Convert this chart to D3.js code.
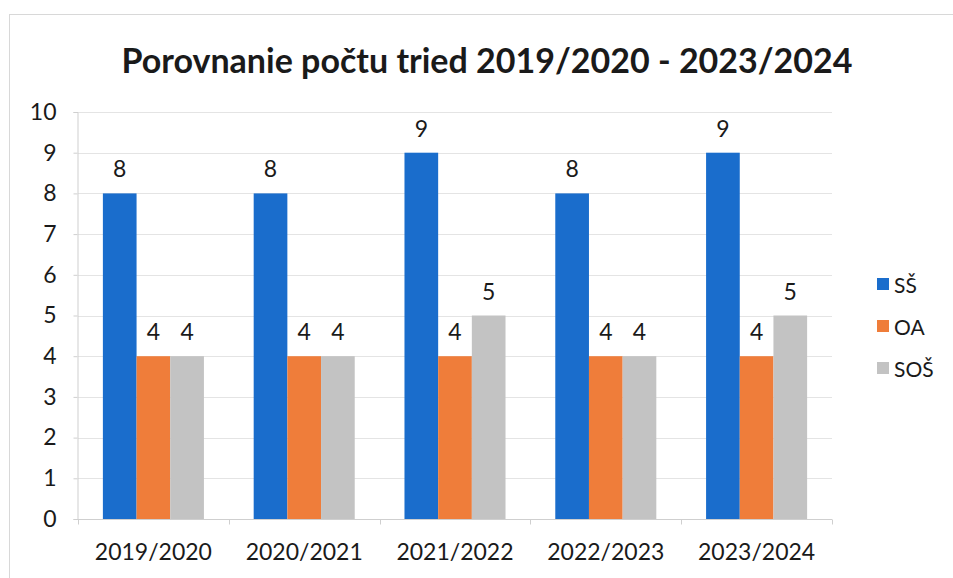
<!DOCTYPE html>
<html>
<head>
<meta charset="utf-8">
<script src="https://cdn.jsdelivr.net/npm/d3@7"></script>
<style>
  body { margin: 0; background: #fff; }
  text { font-family: Lato, "Open Sans", sans-serif; fill: #1a1a1a; }
</style>
</head>
<body>
<svg class="chart"></svg>
<script>
// data
var years = ["2019/2020", "2020/2021", "2021/2022", "2022/2023", "2023/2024"];
var seriesNames = ["SŠ", "OA", "SOŠ"];
var ssValues = [8, 8, 9, 8, 9];
var oaValues = [4, 4, 4, 4, 4];
var sosValues = [4, 4, 5, 4, 5];
var yTicks = [0, 1, 2, 3, 4, 5, 6, 7, 8, 9, 10];
var colors = ["#1a6dcc", "#ef7d3a", "#c3c3c3"];

var W = 953, H = 578;
var chart = d3.select('.chart').attr('width', W).attr('height', H);

// outer frame
chart.append('rect')
    .attr('x', 9.5).attr('y', 14.5)
    .attr('width', W - 8).attr('height', H)
    .attr('fill', 'none').attr('stroke', '#d8d8d8');

var y = d3.scaleLinear().domain([0, 10]).range([519, 112]);
var x = d3.scaleBand().domain(years).range([78, 832])
    .paddingInner(0.33).paddingOuter(0.165);
var xs = d3.scaleBand().domain(seriesNames).range([0, x.bandwidth()]);

var rows = years.map(function (yr, i) {
    return { year: yr, vals: [ssValues[i], oaValues[i], sosValues[i]] };
});

// gridlines
chart.append('g').selectAll('line').data(yTicks.slice(1)).enter().append('line')
    .attr('x1', 78).attr('x2', 832)
    .attr('y1', function (d) { return Math.round(y(d)) + 0.5; })
    .attr('y2', function (d) { return Math.round(y(d)) + 0.5; })
    .attr('stroke', '#e4e4e4');

// y axis
var yAxis = chart.append('g').attr('transform', 'translate(77.5,0)')
    .call(d3.axisLeft(y).tickValues(yTicks).tickSize(4).tickPadding(17));
yAxis.select('.domain').attr('stroke', '#cfcfcf');
yAxis.selectAll('.tick line').attr('stroke', '#cfcfcf');
yAxis.selectAll('.tick text').attr('font-size', 23).attr('fill', '#1a1a1a')
    .attr('font-family', 'Lato, sans-serif');

// x axis
var bounds = years.map(function (d) { return x(d) - x.step() * x.paddingInner() / 2; });
bounds.push(832);
var xAxis = chart.append('g').attr('transform', 'translate(0,519.5)');
xAxis.append('line').attr('x1', 78).attr('x2', 832).attr('stroke', '#cfcfcf');
xAxis.selectAll('line.tk').data(bounds).enter().append('line').attr('class', 'tk')
    .attr('x1', function (d) { return Math.round(d) + 0.5; })
    .attr('x2', function (d) { return Math.round(d) + 0.5; })
    .attr('y1', 0).attr('y2', 5).attr('stroke', '#cfcfcf');
xAxis.selectAll('text').data(years).enter().append('text')
    .attr('x', function (d) { return x(d) + x.bandwidth() / 2; })
    .attr('y', 40)
    .attr('text-anchor', 'middle')
    .attr('font-size', 23)
    .text(function (d) { return d; });

// bars
var groups = chart.append('g').selectAll('g').data(rows).enter().append('g')
    .attr('transform', function (d) { return 'translate(' + x(d.year) + ',0)'; });

groups.selectAll('rect').data(function (d) { return d.vals; }).enter().append('rect')
    .attr('x', function (d, i) { return xs(seriesNames[i]); })
    .attr('y', function (d) { return y(d); })
    .attr('width', xs.bandwidth())
    .attr('height', function (d) { return y(0) - y(d); })
    .attr('fill', function (d, i) { return colors[i]; });

groups.selectAll('text').data(function (d) { return d.vals; }).enter().append('text')
    .attr('x', function (d, i) { return xs(seriesNames[i]) + xs.bandwidth() / 2; })
    .attr('y', function (d) { return y(d) - 16; })
    .attr('text-anchor', 'middle')
    .attr('font-size', 23)
    .text(function (d) { return d; });

// legend
var legend = chart.append('g').selectAll('g').data(seriesNames).enter().append('g')
    .attr('transform', function (d, i) { return 'translate(877,' + (285 + i * 42) + ')'; });
legend.append('rect').attr('x', 0).attr('y', -7).attr('width', 12).attr('height', 12)
    .attr('fill', function (d, i) { return colors[i]; });
legend.append('text').attr('x', 17).attr('y', 8).attr('font-size', 21)
    .text(function (d) { return d; });

// title
chart.append('text')
    .attr('x', 487).attr('y', 73)
    .attr('text-anchor', 'middle')
    .attr('font-size', 34).attr('font-weight', 'bold')
    .text('Porovnanie počtu tried 2019/2020 - 2023/2024');
</script>
</body>
</html>
